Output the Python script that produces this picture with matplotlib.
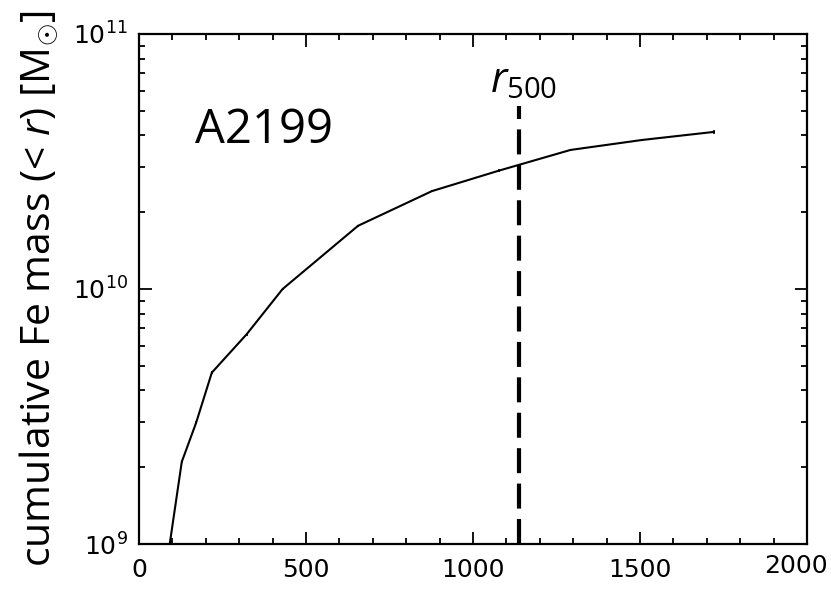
import matplotlib
matplotlib.use("Agg")
import matplotlib.pyplot as plt
from matplotlib.ticker import MultipleLocator, LogLocator, NullFormatter, FuncFormatter

# Cumulative Fe mass profile of A2199
radius = [84, 128, 171, 218, 322, 430, 656, 877, 1077, 1292, 1506, 1721]
fe_mass = [0.85e9, 2.10e9, 2.99e9, 4.70e9, 6.64e9, 1.00e10, 1.77e10, 2.42e10,
           2.91e10, 3.51e10, 3.84e10, 4.13e10]
fe_err = [0.02e9, 0.03e9, 0.04e9, 0.06e9, 0.08e9, 0.12e9, 0.2e9, 0.3e9,
          0.35e9, 0.4e9, 0.45e9, 0.6e9]
r500 = 1138
r500_top = 5.2e10
x_max = 2000

plt.rcParams["mathtext.fontset"] = "custom"
plt.rcParams["mathtext.rm"] = "Open Sans"
plt.rcParams["mathtext.it"] = "Open Sans:italic"

fig = plt.figure(figsize=(8.31, 5.89), dpi=100)
ax = fig.add_axes([0.1673, 0.0764, 0.8038, 0.8659])

ax.errorbar(radius, fe_mass, yerr=fe_err, color="black", lw=1.5,
            elinewidth=1.2, capsize=0)
ax.plot([r500, r500], [1e9, r500_top], color="black", lw=3,
        dashes=(6.0, 2.5))

ax.set_yscale("log")
ax.set_xlim(0, x_max)
ax.set_ylim(1e9, 1e11)

ax.xaxis.set_major_locator(MultipleLocator(500))
ax.xaxis.set_minor_locator(MultipleLocator(100))
# the last x label is drawn separately, nudged inside the figure edge
ax.xaxis.set_major_formatter(
    FuncFormatter(lambda v, p: "" if v >= x_max else f"{v:.0f}"))
ax.yaxis.set_major_locator(LogLocator(base=10, numticks=5))
ax.yaxis.set_minor_locator(LogLocator(base=10, subs=range(2, 10), numticks=20))
ax.yaxis.set_minor_formatter(NullFormatter())

ax.tick_params(which="both", direction="in", top=True, right=True,
               width=1.3, labelsize=18)
ax.tick_params(axis="x", pad=10)
ax.tick_params(axis="y", pad=8)
ax.tick_params(which="major", length=9)
ax.tick_params(which="minor", length=4.5)
for s in ax.spines.values():
    s.set_linewidth(1.6)

ax.annotate(f"{x_max}", xy=(x_max, 0), xycoords=ax.get_xaxis_transform(),
            xytext=(-8, -7.5), textcoords="offset points",
            ha="center", va="top", fontsize=18)

ax.set_ylabel(r"cumulative Fe mass (< $\mathit{r}$) [M$_{\odot}$]",
              family="Open Sans", fontsize=29.5, labelpad=9)

ax.text(0.084, 0.786, "A2199", transform=ax.transAxes, family="Open Sans",
        fontsize=34, va="baseline")
ax.text(1051, 5.93e10, r"$\mathit{r}_{500}$", family="Open Sans",
        fontsize=30, va="baseline")

fig.savefig("out.png", dpi=100)
